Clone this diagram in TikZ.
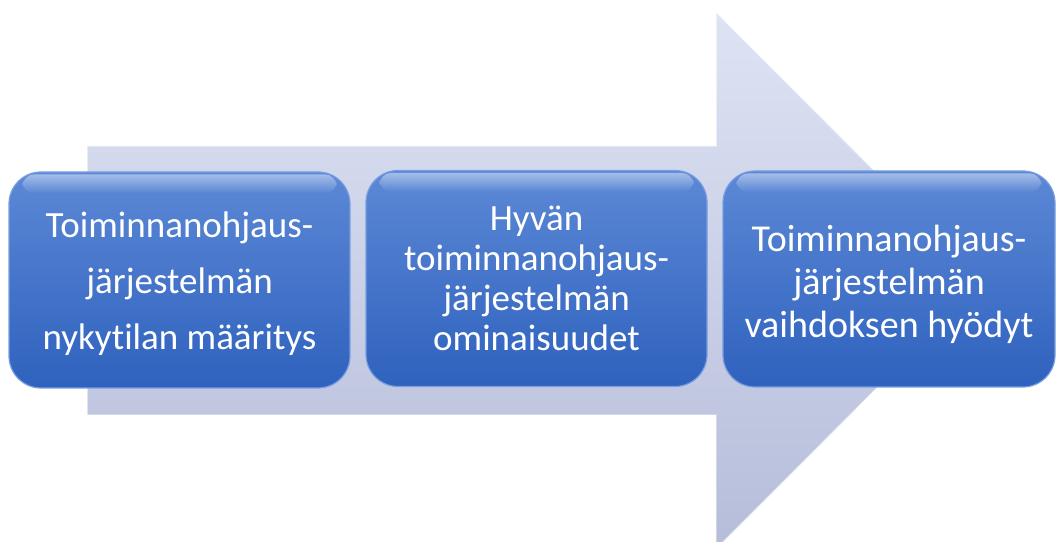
\documentclass[tikz,border=0pt]{standalone}
\usepackage{fontspec}
\setmainfont{Carlito}[Ligatures={NoCommon}]
\usetikzlibrary{fadings}

\definecolor{arrowtop}{RGB}{222,227,244}
\definecolor{arrowbottom}{RGB}{182,189,217}
\definecolor{boxtop}{RGB}{92,136,214}
\definecolor{boxbottom}{RGB}{47,98,190}
\definecolor{boxrim}{RGB}{120,158,225}

\begin{document}
\begin{tikzpicture}[x=1pt,y=1pt,
  phasebox/.style={rounded corners=32pt, minimum height=216pt,
    top color=boxtop, bottom color=boxbottom, draw=boxrim, line width=1.2pt},
  boxtext/.style={text=white, align=center, inner sep=0pt},
  gloss/.style={white, opacity=0.45, path fading=south, rounded corners=12pt}]
\useasboundingbox (0,0) rectangle (1057,541);
% Arrow
\shade[top color=arrowtop, bottom color=arrowbottom]
  (87,126) -- (87,395) -- (716,395) -- (716,529) -- (984,260.5)
  -- (716,-8) -- (716,126) -- cycle;
\draw[white, opacity=0.55, line width=1.5pt]
  (87,126) -- (87,395) -- (716,395) -- (716,529) -- (984,260.5);
\draw[white, opacity=0.35, line width=1.5pt]
  (984,260.5) -- (716,-8) -- (716,126) -- (87,126);
% Boxes
\node[phasebox, minimum width=341pt] (nykytila) at (179.5,261) {};
\node[phasebox, minimum width=341pt] (ominaisuudet) at (536.5,262.5) {};
\node[phasebox, minimum width=332pt] (hyodyt) at (889,262) {};
% Gloss
\fill[gloss] ([shift={(14,-3)}]nykytila.north west) rectangle ([shift={(-14,-22)}]nykytila.north east);
\fill[gloss] ([shift={(14,-3)}]ominaisuudet.north west) rectangle ([shift={(-14,-22)}]ominaisuudet.north east);
\fill[gloss] ([shift={(14,-3)}]hyodyt.north west) rectangle ([shift={(-14,-22)}]hyodyt.north east);
% Texts
\node[boxtext, font=\fontsize{37}{56}\selectfont] (nykytila-text) at ([yshift=-4pt]nykytila.center)
  {Toiminnanohjaus-\\järjestelmän\\nykytilan määritys};
\node[boxtext, font=\fontsize{37}{40}\selectfont] (ominaisuudet-text) at (ominaisuudet.center)
  {Hyvän\\toiminnanohjaus-\\järjestelmän\\ominaisuudet};
\node[boxtext, font=\fontsize{38}{43}\selectfont] (hyodyt-text) at ([yshift=-5pt]hyodyt.center)
  {Toiminnanohjaus-\\järjestelmän\\vaihdoksen hyödyt};
\end{tikzpicture}
\end{document}
